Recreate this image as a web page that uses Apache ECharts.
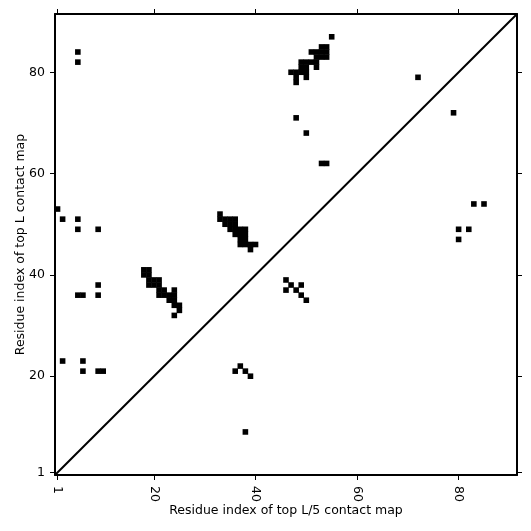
<!DOCTYPE html>
<html>
<head>
<meta charset="utf-8">
<script src="https://cdn.jsdelivr.net/npm/echarts@6/dist/echarts.min.js"></script>
<style>html,body{margin:0;padding:0;background:#fff;}#c{width:531px;height:531px;}</style>
</head>
<body>
<div id="c"></div>
<script>
// Axis settings
const axisRange = [0.5, 91.5];
const tickValues = [1, 20, 40, 60, 80];
const xTitle = 'Residue index of top L/5 contact map';
const yTitle = 'Residue index of top L contact map';

// Contacts above the diagonal (x < y)
const upperX = [5,5, 1,2,5,5,9,
  33,33,34,35,36,34,35,36,35,36,37,38,36,37,38,37,38,37,38,39,40,39,
  18,19,18,19,19,20,21,19,20,21,21,22,24,21,22,23,24,23,24,24,25,25,24,
  9,5,6,9, 2,6,6,9,10,
  48,50,53,54,72,
  55,53,54,51,52,53,54,52,53,54,49,50,51,52,49,50,52,47,48,49,50,48,50,48];
const upperY = [84,82, 53,51,51,49,49,
  52,51,51,51,51,50,50,50,49,49,49,49,48,48,48,47,47,46,46,46,46,45,
  41,41,40,40,39,39,39,38,38,38,37,37,37,36,36,36,36,35,35,34,34,33,32,
  38,36,36,36, 23,23,21,21,21,
  71,68,62,62,79,
  87,85,85,84,84,84,84,83,83,83,82,82,82,82,81,81,81,80,80,80,80,79,79,78];

// Contacts below the diagonal (x > y)
const lowerX = [79,83,85,80,82,80, 46,47,49,46,48,49,50, 37,36,38,39,38];
const lowerY = [72,54,54,49,49,47, 39,38,38,37,37,36,35, 22,21,21,20,9];

const pts = [];
upperX.forEach((x, i) => pts.push([x, upperY[i]]));
lowerX.forEach((x, i) => pts.push([x, lowerY[i]]));

const font = 'DejaVu Sans';
function mkAxis(pos, showLabel, name, isX) {
  return {
    type: 'value', position: pos, min: axisRange[0], max: axisRange[1],
    splitLine: {show: false},
    axisLine: {show: true, onZero: false, lineStyle: {color: '#000', width: 2}},
    axisTick: {show: true, customValues: tickValues, length: 5, lineStyle: {color: '#000', width: 1}},
    axisLabel: {show: showLabel, customValues: tickValues, color: '#000', fontSize: 12.5, fontFamily: font,
      rotate: isX ? -90 : 0, margin: isX ? 11 : 10},
    name: name, nameLocation: 'middle', nameGap: isX ? 29 : 28, nameMoveOverlap: false,
    nameTextStyle: {color: '#000', fontSize: 12.5, fontFamily: font}
  };
}
const chart = echarts.init(document.getElementById('c'), null, {renderer: 'canvas'});
chart.setOption({
  animation: false,
  backgroundColor: '#fff',
  grid: {left: 55, right: 14, top: 14, bottom: 56, containLabel: false, outerBoundsMode: 'none'},
  xAxis: [mkAxis('bottom', true, xTitle, true), mkAxis('top', false, '', true)],
  yAxis: [mkAxis('left', true, yTitle, false), mkAxis('right', false, '', false)],
  series: [
    {type: 'line', xAxisIndex: 0, yAxisIndex: 0, data: [[axisRange[0], axisRange[0]], [axisRange[1], axisRange[1]]],
      symbol: 'none', lineStyle: {color: '#000', width: 2}, silent: true},
    {type: 'scatter', xAxisIndex: 0, yAxisIndex: 0, data: pts, symbol: 'rect', symbolSize: 5.6,
      itemStyle: {color: '#000', opacity: 1}, silent: true}
  ]
});
</script>
</body>
</html>
